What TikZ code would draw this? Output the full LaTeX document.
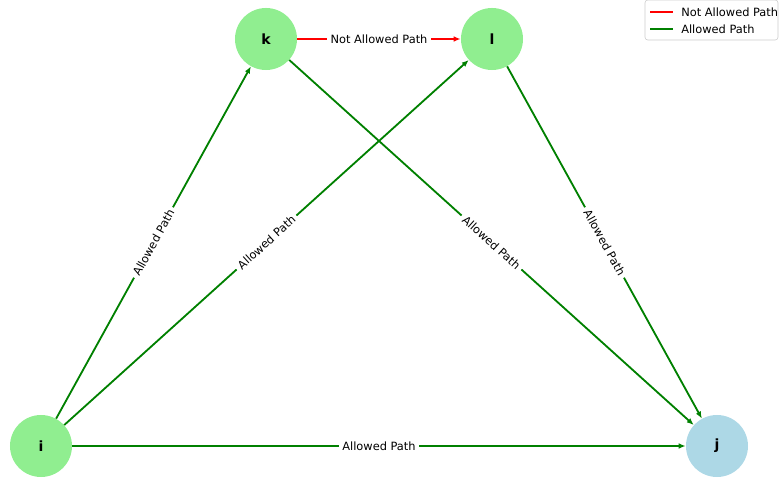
\documentclass[tikz,border=0pt]{standalone}
\usepackage{fontspec}
\setmainfont{DejaVu Sans}
\usepackage{tikz}
\usetikzlibrary{arrows.meta}
\definecolor{nodegreen}{HTML}{90EE90}
\definecolor{nodeblue}{HTML}{ADD8E6}
\definecolor{pathgreen}{HTML}{008000}
\newcommand{\labelfont}{\fontsize{8.1}{10}\selectfont}

\begin{document}
\begin{tikzpicture}[x=0.025cm, y=-0.025cm,
    vertex/.style={circle, fill=nodegreen, minimum size=1.55cm, inner sep=0pt, font=\bfseries},
    allowed/.style={draw=pathgreen, line width=1.3pt, -{Latex[length=5pt,width=4pt]}},
    blocked/.style={draw=red, line width=1.3pt, -{Latex[length=5pt,width=4pt]}},
    plabel/.style={midway, sloped, fill=white, inner sep=2.5pt, font=\labelfont}]
    \useasboundingbox (0,0) rectangle (779,484);

    % Nodes
    \node[vertex] (k) at (266,39) {k};
    \node[vertex] (l) at (492,39) {l};
    \node[vertex] (i) at (41,446) {i};
    \node[vertex, fill=nodeblue] (j) at (717,446) {j};

    % Edges
    \draw[allowed] (i) -- (k) node[plabel] {Allowed Path};
    \draw[allowed] (i) -- (l) node[plabel] {Allowed Path};
    \draw[allowed] (i) -- (j) node[plabel] {Allowed Path};
    \draw[allowed] (k) -- (j) node[plabel] {Allowed Path};
    \draw[allowed] (l) -- (j) node[plabel] {Allowed Path};
    \draw[blocked] (k) -- (l) node[plabel] {Not Allowed Path};

    % Legend
    \draw[draw=black!20, fill=white, rounded corners=2pt] (645,0) rectangle (778,40);
    \coordinate (r1) at (650,12);
    \coordinate (r2) at (673,12);
    \coordinate (g1) at (650,29);
    \coordinate (g2) at (673,29);
    \draw[red, line width=1.3pt] (r1) -- (r2);
    \draw[pathgreen, line width=1.3pt] (g1) -- (g2);
    \node[anchor=west, font=\labelfont, inner sep=0pt] (notallowed) at (681,12) {Not Allowed Path};
    \node[anchor=west, font=\labelfont, inner sep=0pt] (allowedkey) at (681,29) {Allowed Path};
\end{tikzpicture}
\end{document}
